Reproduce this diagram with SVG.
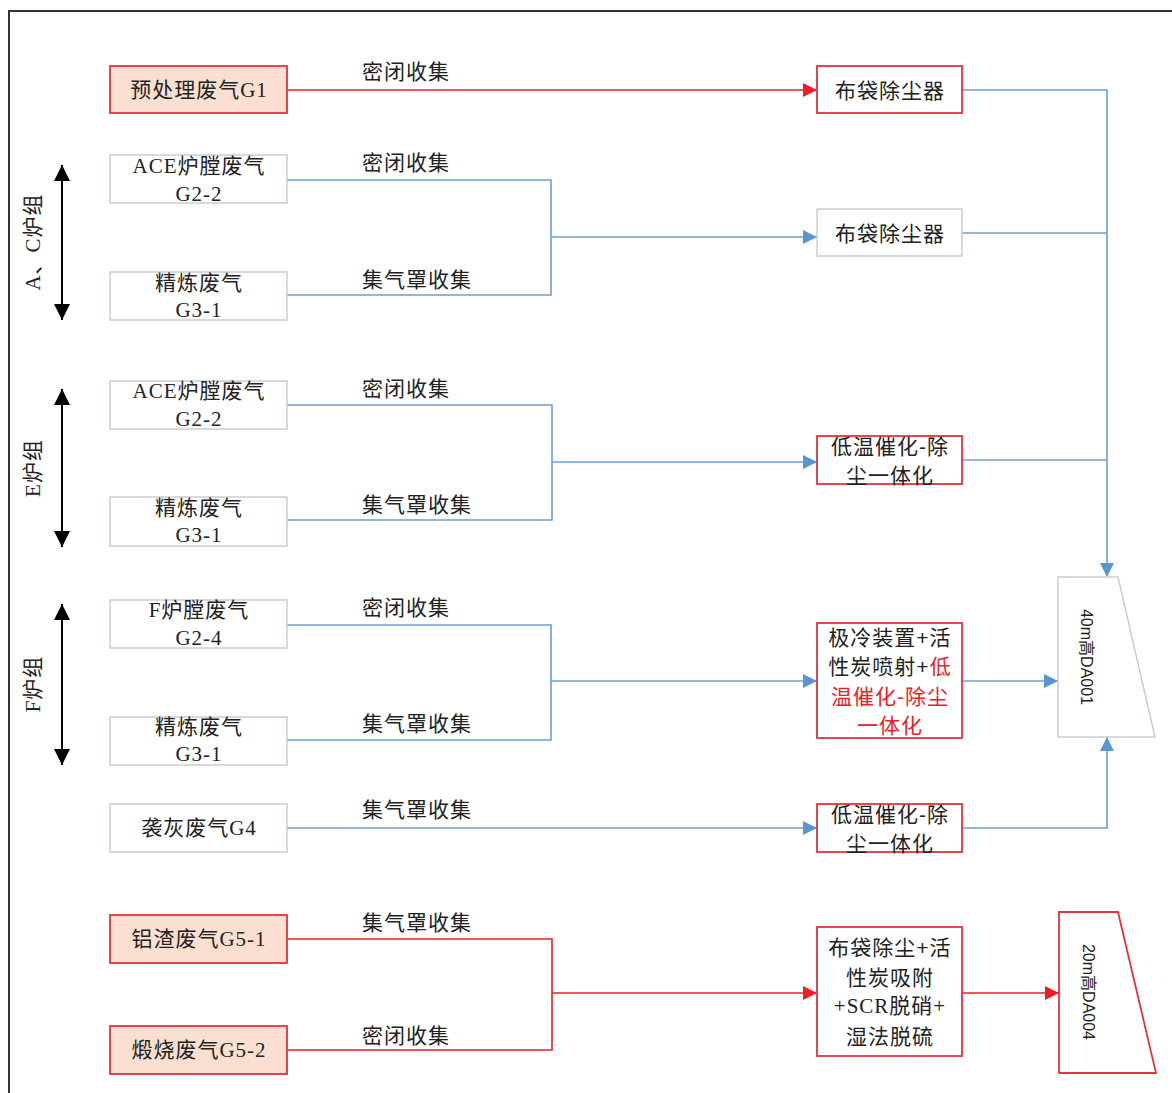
<svg xmlns="http://www.w3.org/2000/svg" width="1172" height="1093" viewBox="0 0 1172 1093">
<style>
.bg{fill:#fff}
.box{fill:#fff;stroke:#c9cdd2;stroke-width:1.5}
.rbox{fill:#fff;stroke:#e2343d;stroke-width:1.8}
.pbox{fill:#fbe0d2;stroke:#e2343d;stroke-width:1.8}
.t{font-family:"Liberation Serif","Noto Sans CJK SC",serif;font-size:21px;letter-spacing:1px;fill:#222;text-anchor:middle;dominant-baseline:central}
.s{font-family:"Liberation Sans","Noto Sans CJK SC",sans-serif;font-size:21px;letter-spacing:1px;fill:#222;text-anchor:middle;dominant-baseline:central}
.lbl{font-family:"Noto Sans CJK SC",sans-serif;font-size:21px;letter-spacing:1px;fill:#222;text-anchor:middle}
.red{fill:#e8202a}
.bl{fill:none;stroke:#6a9fd4;stroke-width:1.6}
.rl{fill:none;stroke:#e8202a;stroke-width:1.6}
.k{fill:none;stroke:#000;stroke-width:2}
.v{font-family:"Liberation Sans","Noto Sans CJK SC",sans-serif;font-size:16px;fill:#222;text-anchor:middle;dominant-baseline:central}
.g{font-family:"Liberation Serif","Noto Sans CJK SC",serif;font-size:21px;letter-spacing:1px;fill:#222;text-anchor:middle;dominant-baseline:central}
</style>
<defs>
<marker id="ab" viewBox="0 0 10 10" refX="10" refY="5" markerWidth="16" markerHeight="14" markerUnits="userSpaceOnUse" orient="auto"><path d="M0,0 L10,5 L0,10 Z" fill="#5b95d0"/></marker>
<marker id="ar" viewBox="0 0 10 10" refX="10" refY="5" markerWidth="16" markerHeight="14" markerUnits="userSpaceOnUse" orient="auto"><path d="M0,0 L10,5 L0,10 Z" fill="#ee1c25"/></marker>
<marker id="ak" viewBox="0 0 10 10" refX="10" refY="5" markerWidth="22" markerHeight="16" markerUnits="userSpaceOnUse" orient="auto-start-reverse"><path d="M0,0 L10,5 L0,10 Z" fill="#000"/></marker>
</defs>
<rect class="bg" x="0" y="0" width="1172" height="1093"/>
<path d="M9,1093 V11 H1172" fill="none" stroke="#333" stroke-width="2"/>

<g id="connectors">
  <path class="rl" d="M287,90 H817" stroke="#ff0000" marker-end="url(#ar)"/>
  <text class="lbl" x="406" y="79">密闭收集</text>
  <path class="bl" d="M287,180 H551 V295 H287"/>
  <path class="bl" d="M551,237 H817" marker-end="url(#ab)"/>
  <text class="lbl" x="406" y="170">密闭收集</text>
  <text class="lbl" x="417" y="287">集气罩收集</text>
  <path class="bl" d="M287,405 H552 V520 H287"/>
  <path class="bl" d="M552,462 H817" marker-end="url(#ab)"/>
  <text class="lbl" x="406" y="396">密闭收集</text>
  <text class="lbl" x="417" y="512">集气罩收集</text>
  <path class="bl" d="M287,625 H551 V740 H287"/>
  <path class="bl" d="M551,681 H817" marker-end="url(#ab)"/>
  <text class="lbl" x="406" y="615">密闭收集</text>
  <text class="lbl" x="417" y="731">集气罩收集</text>
  <path class="bl" d="M287,828 H817" marker-end="url(#ab)"/>
  <text class="lbl" x="417" y="817">集气罩收集</text>
  <path class="bl" d="M962,90 H1107 V577" marker-end="url(#ab)"/>
  <path class="bl" d="M962,233 H1107"/>
  <path class="bl" d="M962,460 H1107"/>
  <path class="bl" d="M962,681 H1058" marker-end="url(#ab)"/>
  <path class="bl" d="M962,828 H1107 V737" marker-end="url(#ab)"/>
  <path class="rl" d="M287,939 H552 V1050 H287"/>
  <path class="rl" d="M552,993 H817" marker-end="url(#ar)"/>
  <path class="rl" d="M962,993 H1059" marker-end="url(#ar)"/>
  <text class="lbl" x="417" y="930">集气罩收集</text>
  <text class="lbl" x="406" y="1043">密闭收集</text>
  <path class="k" d="M62,165 V320" marker-start="url(#ak)" marker-end="url(#ak)"/>
  <path class="k" d="M62,389 V547" marker-start="url(#ak)" marker-end="url(#ak)"/>
  <path class="k" d="M62,604 V765" marker-start="url(#ak)" marker-end="url(#ak)"/>
</g>

<g id="grp-ac"><text class="g" transform="translate(33,242) rotate(-90)">A、C炉组</text></g>
<g id="grp-e"><text class="g" transform="translate(33,468) rotate(-90)">E炉组</text></g>
<g id="grp-f"><text class="g" transform="translate(33,684) rotate(-90)">F炉组</text></g>

<g id="g1"><rect class="pbox" x="110" y="66" width="177" height="47"/><text class="t" x="199" y="90">预处理废气G1</text></g>
<g id="ac-g22"><rect class="box" x="110" y="155" width="177" height="48"/><text class="t" x="199" y="166">ACE炉膛废气</text><text class="t" x="199" y="194">G2-2</text></g>
<g id="ac-g31"><rect class="box" x="110" y="272" width="177" height="48"/><text class="t" x="199" y="283">精炼废气</text><text class="t" x="199" y="310">G3-1</text></g>
<g id="e-g22"><rect class="box" x="110" y="381" width="177" height="48"/><text class="t" x="199" y="391">ACE炉膛废气</text><text class="t" x="199" y="419">G2-2</text></g>
<g id="e-g31"><rect class="box" x="110" y="497" width="177" height="49"/><text class="t" x="199" y="508">精炼废气</text><text class="t" x="199" y="535">G3-1</text></g>
<g id="f-g24"><rect class="box" x="110" y="600" width="177" height="48"/><text class="t" x="199" y="610">F炉膛废气</text><text class="t" x="199" y="638">G2-4</text></g>
<g id="f-g31"><rect class="box" x="110" y="717" width="177" height="48"/><text class="t" x="199" y="727">精炼废气</text><text class="t" x="199" y="754">G3-1</text></g>
<g id="g4"><rect class="box" x="110" y="804" width="177" height="48"/><text class="t" x="199" y="828">袭灰废气G4</text></g>
<g id="g51"><rect class="pbox" x="110" y="915" width="177" height="48"/><text class="t" x="199" y="939">铝渣废气G5-1</text></g>
<g id="g52"><rect class="pbox" x="110" y="1026" width="177" height="48"/><text class="t" x="199" y="1050">煅烧废气G5-2</text></g>

<g id="bag1"><rect class="rbox" x="817" y="66" width="145" height="47"/><text class="s" x="890" y="90">布袋除尘器</text></g>
<g id="bag2"><rect class="box" x="817" y="209" width="145" height="47"/><text class="s" x="890" y="233">布袋除尘器</text></g>
<g id="cat1"><rect class="rbox" x="817" y="436" width="145" height="48"/><text class="s" x="890" y="446">低温催化-除</text><text class="s" x="890" y="475">尘一体化</text></g>
<g id="cold"><rect class="rbox" x="817" y="623" width="145" height="115"/>
<text class="s" x="890" y="637">极冷装置+活</text>
<text class="s" x="890" y="666">性炭喷射+<tspan class="red">低</tspan></text>
<text class="s red" x="890" y="696">温催化-除尘</text>
<text class="s red" x="890" y="725">一体化</text></g>
<g id="cat2"><rect class="rbox" x="817" y="804" width="145" height="48"/><text class="s" x="890" y="814">低温催化-除</text><text class="s" x="890" y="843">尘一体化</text></g>
<g id="bag3"><rect class="rbox" x="817" y="927" width="145" height="129"/>
<text class="s" x="890" y="947">布袋除尘+活</text>
<text class="s" x="890" y="977">性炭吸附</text>
<text class="t" x="890" y="1006">+SCR脱硝+</text>
<text class="s" x="890" y="1036">湿法脱硫</text></g>

<g id="da001"><path d="M1058,577 H1118 L1155,737 H1058 Z" fill="#fff" stroke="#c9cdd2" stroke-width="1.5"/><text class="v" transform="translate(1086,657) rotate(90)">40m高DA001</text></g>
<g id="da004"><path d="M1059,912 H1118 L1156,1073 H1059 Z" fill="#fff" stroke="#e2343d" stroke-width="1.8"/><text class="v" transform="translate(1088,992) rotate(90)">20m高DA004</text></g>
</svg>
